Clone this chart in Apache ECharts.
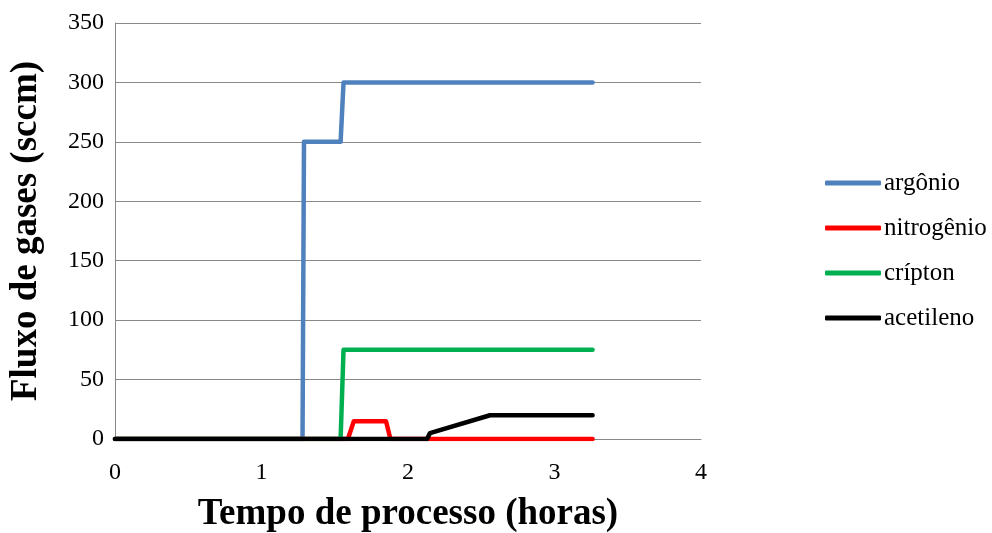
<!DOCTYPE html>
<html>
<head>
<meta charset="utf-8">
<script src="https://cdn.jsdelivr.net/npm/echarts@6/dist/echarts.min.js"></script>
<style>
  html, body { margin: 0; padding: 0; background: #fff; }
  #chart { width: 992px; height: 533px; }
</style>
</head>
<body>
<div id="chart"></div>
<script>
// Gas flow set-points over process time: [hours, sccm]
const argonio    = [[0, 0], [1.28, 0], [1.29, 250], [1.54, 250], [1.56, 300], [3.26, 300]];
const nitrogenio = [[0, 0], [1.59, 0], [1.63, 15], [1.85, 15], [1.88, 0], [3.26, 0]];
const cripton    = [[0, 0], [1.54, 0], [1.56, 75], [3.26, 75]];
const acetileno  = [[0, 0], [2.13, 0], [2.15, 5], [2.56, 20], [3.26, 20]];

const seriesNames  = ['argônio', 'nitrogênio', 'crípton', 'acetileno'];
const seriesData   = [argonio, nitrogenio, cripton, acetileno];
const seriesColors = ['#4F81BD', '#FF0000', '#00B050', '#000000'];

const xTicks = [0, 1, 2, 3, 4];
const yTicks = [0, 50, 100, 150, 200, 250, 300, 350];

const FONT = '"Liberation Serif", "Times New Roman", serif';

const chart = echarts.init(document.getElementById('chart'), null, { renderer: 'canvas' });

chart.setOption({
  animation: false,
  backgroundColor: '#ffffff',
  grid: { left: 115, right: 291, top: 23, bottom: 94, containLabel: false, outerBoundsMode: 'none' },
  legend: {
    orient: 'vertical',
    left: 820,
    top: 165,
    itemWidth: 56,
    itemHeight: 5,
    itemGap: 19,
    icon: 'roundRect',
    data: seriesNames,
    textStyle: { fontFamily: FONT, fontSize: 25, color: '#000', padding: [0, 0, 0, -2], lineHeight: 26 }
  },
  xAxis: {
    type: 'value',
    min: xTicks[0],
    max: xTicks[xTicks.length - 1],
    interval: 1,
    name: 'Tempo de processo (horas)',
    nameLocation: 'middle',
    nameGap: 57,
    nameTextStyle: { fontFamily: FONT, fontSize: 37, fontWeight: 'bold', color: '#000' },
    axisLine: { show: true, lineStyle: { color: '#898989', width: 1 } },
    axisTick: { show: false },
    axisLabel: { fontFamily: FONT, fontSize: 24, color: '#000', margin: 22 },
    splitLine: { show: false }
  },
  yAxis: {
    type: 'value',
    min: yTicks[0],
    max: yTicks[yTicks.length - 1],
    interval: 50,
    name: 'Fluxo de gases (sccm)',
    nameLocation: 'middle',
    nameGap: 70,
    nameTextStyle: { fontFamily: FONT, fontSize: 37, fontWeight: 'bold', color: '#000' },
    axisLine: { show: true, lineStyle: { color: '#898989', width: 1 } },
    axisTick: { show: false },
    axisLabel: { fontFamily: FONT, fontSize: 24, color: '#000', margin: 11 },
    splitLine: { show: true, lineStyle: { color: '#898989', width: 1 } }
  },
  series: seriesNames.map((name, i) => ({
    name: name,
    type: 'line',
    data: seriesData[i],
    showSymbol: false,
    symbol: 'none',
    color: seriesColors[i],
    lineStyle: { color: seriesColors[i], width: 4.5, cap: 'round', join: 'round' },
    z: 2 + i
  }))
});
</script>
</body>
</html>
